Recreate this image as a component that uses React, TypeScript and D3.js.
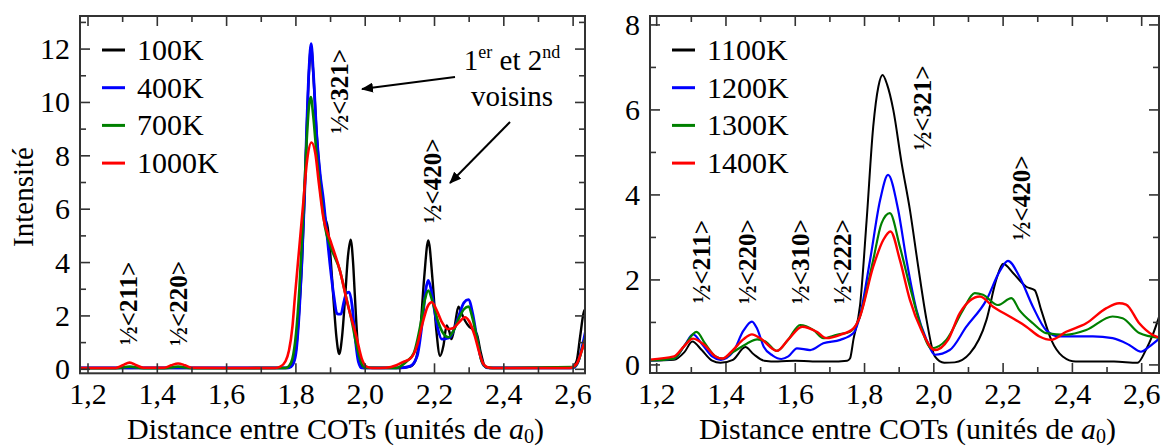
import React from "react";
import * as d3 from "d3";

type Pt = [number, number];

// ---------- DATA ----------
const leftSeriesNames = ["100K", "400K", "700K", "1000K"];
const rightSeriesNames = ["1100K", "1200K", "1300K", "1400K"];
const seriesColors = ["#000000", "#0000ff", "#008000", "#ff0000"];

const xTicks = [1.2, 1.4, 1.6, 1.8, 2.0, 2.2, 2.4, 2.6];
const xMinorTicks = [1.3, 1.5, 1.7, 1.9, 2.1, 2.3, 2.5];
const leftYTicks = [0, 2, 4, 6, 8, 10, 12];
const leftYMinor = [1, 3, 5, 7, 9, 11, 13];
const rightYTicks = [0, 2, 4, 6, 8];
const rightYMinor = [1, 3, 5, 7];

const left100K: Pt[] = [
  [1.17, 0.05], [1.4, 0.05], [1.6, 0.05], [1.775, 0.05], [1.788, 0.15], [1.8, 0.7], [1.81, 2.3], [1.817, 3.9],
  [1.825, 6.5], [1.831, 8.9], [1.838, 11.2], [1.844, 12.1], [1.85, 11.1], [1.86, 8.8], [1.87, 7.2], [1.879, 6.1],
  [1.884, 5.7], [1.892, 5.3], [1.9, 4.2], [1.908, 2.7], [1.917, 1.2], [1.925, 0.57], [1.933, 1.2], [1.942, 2.7],
  [1.95, 4.2], [1.958, 4.86], [1.965, 4.0], [1.97, 2.8], [1.978, 1.0], [1.985, 0.2], [1.995, 0.05],
  [2.1, 0.05], [2.13, 0.1], [2.144, 0.3], [2.158, 1.3], [2.17, 3.4], [2.182, 4.83], [2.194, 3.4], [2.205, 1.5],
  [2.216, 0.5], [2.226, 0.9], [2.235, 1.64], [2.243, 1.4], [2.249, 1.13], [2.258, 1.6], [2.269, 2.35],
  [2.278, 2.1], [2.288, 1.82], [2.3, 1.6], [2.31, 1.5], [2.322, 1.32], [2.334, 0.6], [2.346, 0.1], [2.36, 0.05],
  [2.595, 0.05], [2.61, 0.3], [2.62, 1.2], [2.63, 2.1], [2.635, 2.25], [2.645, 1.8],
];
const left400K: Pt[] = [
  [1.17, 0.05], [1.4, 0.05], [1.6, 0.05], [1.78, 0.05], [1.79, 0.15], [1.8, 0.6], [1.81, 2.2], [1.817, 3.95],
  [1.825, 6.5], [1.831, 9.0], [1.838, 11.3], [1.844, 12.2], [1.85, 11.2], [1.86, 8.8], [1.87, 7.3], [1.879, 6.4],
  [1.89, 5.0], [1.898, 3.97], [1.91, 2.7], [1.918, 2.1], [1.922, 2.07], [1.93, 2.07], [1.938, 2.5], [1.946, 2.85],
  [1.954, 2.89], [1.962, 2.4], [1.97, 1.3], [1.98, 0.3], [1.99, 0.05],
  [2.1, 0.05], [2.13, 0.12], [2.15, 0.5], [2.165, 1.8], [2.175, 3.0], [2.182, 3.33], [2.19, 3.0], [2.2, 2.2],
  [2.21, 1.5], [2.221, 1.13], [2.233, 1.15], [2.245, 1.2], [2.255, 1.45], [2.27, 2.0], [2.285, 2.5], [2.298, 2.61],
  [2.31, 2.1], [2.322, 1.2], [2.331, 0.57], [2.342, 0.15], [2.355, 0.05],
  [2.6, 0.05], [2.615, 0.3], [2.627, 0.9], [2.64, 1.7],
];
const left700K: Pt[] = [
  [1.17, 0.04], [1.28, 0.04], [1.32, 0.1], [1.36, 0.04], [1.42, 0.04], [1.46, 0.1], [1.5, 0.04], [1.6, 0.04],
  [1.77, 0.05], [1.78, 0.12], [1.79, 0.4], [1.8, 1.3], [1.81, 3.0], [1.82, 5.5], [1.83, 8.3], [1.838, 9.9],
  [1.843, 10.2], [1.85, 9.5], [1.86, 8.0], [1.87, 6.8], [1.884, 5.33], [1.9, 4.6], [1.927, 3.7], [1.945, 2.7],
  [1.961, 1.82], [1.975, 0.9], [1.99, 0.2], [2.0, 0.06],
  [2.09, 0.05], [2.12, 0.3], [2.14, 0.6], [2.16, 1.7], [2.172, 2.6], [2.182, 2.95], [2.195, 2.5], [2.21, 1.8],
  [2.225, 1.35], [2.24, 1.2], [2.255, 1.45], [2.27, 1.9], [2.285, 2.25], [2.298, 2.35], [2.31, 1.9], [2.325, 1.0],
  [2.336, 0.3], [2.35, 0.08], [2.37, 0.05],
  [2.6, 0.08], [2.615, 0.3], [2.627, 0.8], [2.64, 1.4],
];
const left1000K: Pt[] = [
  [1.17, 0.05], [1.28, 0.05], [1.3, 0.15], [1.32, 0.25], [1.34, 0.15], [1.36, 0.06], [1.42, 0.06], [1.44, 0.15],
  [1.46, 0.22], [1.48, 0.15], [1.5, 0.06], [1.6, 0.05], [1.74, 0.05], [1.755, 0.1], [1.77, 0.3], [1.78, 0.7],
  [1.79, 1.6], [1.797, 2.7], [1.81, 4.6], [1.821, 6.2], [1.832, 7.8], [1.845, 8.5], [1.856, 8.1], [1.866, 7.0],
  [1.879, 5.7], [1.9, 4.8], [1.927, 3.7], [1.95, 2.4], [1.975, 1.2], [1.99, 0.4], [2.004, 0.1], [2.02, 0.05],
  [2.06, 0.06], [2.09, 0.15], [2.11, 0.28], [2.13, 0.4], [2.15, 0.9], [2.165, 1.7], [2.18, 2.35], [2.192, 2.51],
  [2.205, 2.25], [2.22, 1.8], [2.24, 1.51], [2.255, 1.55], [2.27, 1.75], [2.288, 1.95], [2.3, 1.8], [2.315, 1.3],
  [2.33, 0.6], [2.341, 0.2], [2.355, 0.07], [2.38, 0.05],
  [2.59, 0.05], [2.61, 0.2], [2.625, 0.7], [2.64, 1.3],
];

const right1100K: Pt[] = [
  [1.17, 0.1], [1.25, 0.12], [1.28, 0.3], [1.303, 0.55], [1.33, 0.35], [1.36, 0.1], [1.384, 0.05], [1.42, 0.12],
  [1.456, 0.42], [1.48, 0.25], [1.51, 0.1], [1.55, 0.08], [1.6, 0.1], [1.65, 0.08], [1.7, 0.08], [1.75, 0.1],
  [1.758, 0.15], [1.768, 0.6], [1.787, 1.4], [1.806, 3.4], [1.825, 5.6], [1.84, 6.55], [1.852, 6.82],
  [1.865, 6.6], [1.883, 6.0], [1.907, 4.75], [1.931, 3.65], [1.955, 2.31], [1.979, 1.06], [2.003, 0.2],
  [2.03, 0.05], [2.06, 0.06], [2.104, 0.27], [2.152, 1.06], [2.18, 2.0], [2.2, 2.38], [2.23, 2.15], [2.267, 1.84],
  [2.291, 1.76], [2.31, 1.29], [2.339, 0.59], [2.372, 0.2], [2.41, 0.08], [2.52, 0.08], [2.588, 0.05],
  [2.612, 0.35], [2.63, 0.67], [2.655, 1.25],
];
const right1200K: Pt[] = [
  [1.17, 0.1], [1.25, 0.15], [1.28, 0.45], [1.305, 0.72], [1.33, 0.5], [1.36, 0.2], [1.385, 0.12], [1.42, 0.3],
  [1.45, 0.8], [1.475, 1.02], [1.49, 0.85], [1.509, 0.43], [1.535, 0.22], [1.56, 0.14], [1.58, 0.2], [1.605, 0.39],
  [1.643, 0.35], [1.681, 0.51], [1.73, 0.59], [1.768, 0.75], [1.785, 1.1], [1.816, 2.47], [1.845, 3.88],
  [1.868, 4.47], [1.897, 3.65], [1.921, 2.47], [1.95, 1.29], [1.979, 0.59], [2.003, 0.24], [2.046, 0.35],
  [2.094, 0.9], [2.152, 1.53], [2.19, 2.2], [2.214, 2.45], [2.247, 2.08], [2.286, 1.37], [2.324, 0.82],
  [2.363, 0.67], [2.459, 0.67], [2.516, 0.63], [2.564, 0.47], [2.598, 0.31], [2.622, 0.43], [2.655, 0.65],
];
const right1300K: Pt[] = [
  [1.17, 0.1], [1.25, 0.15], [1.28, 0.45], [1.315, 0.78], [1.34, 0.5], [1.37, 0.2], [1.39, 0.15], [1.42, 0.3],
  [1.46, 0.5], [1.49, 0.6], [1.514, 0.55], [1.547, 0.33], [1.58, 0.6], [1.614, 0.94], [1.653, 0.82],
  [1.681, 0.63], [1.72, 0.71], [1.758, 0.78], [1.785, 1.1], [1.825, 2.47], [1.849, 3.33], [1.873, 3.57],
  [1.902, 2.78], [1.931, 1.84], [1.96, 0.98], [1.993, 0.39], [2.036, 0.59], [2.084, 1.29], [2.118, 1.69],
  [2.142, 1.65], [2.185, 1.41], [2.224, 1.57], [2.247, 1.29], [2.286, 0.98], [2.324, 0.75], [2.382, 0.71],
  [2.44, 0.82], [2.516, 1.14], [2.545, 1.1], [2.593, 0.75], [2.655, 0.63],
];
const right1400K: Pt[] = [
  [1.17, 0.12], [1.25, 0.2], [1.28, 0.45], [1.305, 0.62], [1.34, 0.45], [1.37, 0.2], [1.39, 0.15], [1.42, 0.35],
  [1.45, 0.6], [1.475, 0.72], [1.5, 0.62], [1.547, 0.33], [1.58, 0.6], [1.62, 0.9], [1.662, 0.78], [1.69, 0.63],
  [1.73, 0.71], [1.768, 0.86], [1.785, 1.1], [1.825, 2.31], [1.854, 2.94], [1.875, 3.14], [1.902, 2.47],
  [1.931, 1.53], [1.964, 0.82], [2.003, 0.35], [2.041, 0.59], [2.075, 1.22], [2.133, 1.61], [2.171, 1.37],
  [2.219, 1.14], [2.267, 0.9], [2.305, 0.67], [2.339, 0.59], [2.382, 0.78], [2.44, 0.98], [2.497, 1.33],
  [2.535, 1.45], [2.555, 1.42], [2.593, 0.98], [2.631, 0.71], [2.655, 0.63],
];

const leftAnnotations = [
  { label: "½<321>", x: 1.95, y: 10.42 },
  { label: "½<420>", x: 2.218, y: 7.06 },
  { label: "½<211>", x: 1.341, y: 2.47 },
  { label: "½<220>", x: 1.486, y: 2.47 },
];
const rightAnnotations = [
  { label: "½<321>", x: 1.992, y: 6.05 },
  { label: "½<420>", x: 2.278, y: 3.93 },
  { label: "½<211>", x: 1.354, y: 2.43 },
  { label: "½<220>", x: 1.487, y: 2.43 },
  { label: "½<310>", x: 1.64, y: 2.43 },
  { label: "½<222>", x: 1.761, y: 2.43 },
];

const FAMILY = '"Liberation Serif"';
const fmt = (v: number) => v.toFixed(1).replace(".", ",");

type PanelProps = {
  id: string;
  box: { l: number; r: number; t: number; b: number };
  xDomain: [number, number];
  yDomain: [number, number];
  yTicks: number[];
  yMinor: number[];
  series: Pt[][];
  names: string[];
  legendX: number;
  annotations: { label: string; x: number; y: number }[];
  widths: number[];
};

function Panel(p: PanelProps) {
  const { box } = p;
  const x = d3.scaleLinear().domain(p.xDomain).range([box.l, box.r]);
  const y = d3.scaleLinear().domain(p.yDomain).range([box.b, box.t]);
  const line = d3
    .line<Pt>()
    .x((d) => x(d[0]))
    .y((d) => y(d[1]))
    .curve(d3.curveMonotoneX);
  const major = 10;
  const minor = 6;
  const tickStroke = "#333";
  return (
    <g>
      <defs>
        <clipPath id={p.id}>
          <rect x={box.l} y={box.t} width={box.r - box.l} height={box.b - box.t} />
        </clipPath>
      </defs>
      <g clipPath={`url(#${p.id})`}>
        {p.series.map((s, i) => (
          <path key={i} d={line(s) || ""} fill="none" stroke={seriesColors[i]} strokeWidth={p.widths[i]} strokeLinejoin="round" />
        ))}
      </g>
      <g stroke={tickStroke} strokeWidth={1.6}>
        {xTicks.map((t) => (
          <g key={"xt" + t}>
            <line x1={x(t)} x2={x(t)} y1={box.b} y2={box.b - major} />
            <line x1={x(t)} x2={x(t)} y1={box.t} y2={box.t + major} />
          </g>
        ))}
        {xMinorTicks.map((t) => (
          <g key={"xm" + t}>
            <line x1={x(t)} x2={x(t)} y1={box.b} y2={box.b - minor} />
            <line x1={x(t)} x2={x(t)} y1={box.t} y2={box.t + minor} />
          </g>
        ))}
        {p.yTicks.map((t) => (
          <g key={"yt" + t}>
            <line x1={box.l} x2={box.l + major} y1={y(t)} y2={y(t)} />
            <line x1={box.r} x2={box.r - major} y1={y(t)} y2={y(t)} />
          </g>
        ))}
        {p.yMinor.map((t) => (
          <g key={"ym" + t}>
            <line x1={box.l} x2={box.l + minor} y1={y(t)} y2={y(t)} />
            <line x1={box.r} x2={box.r - minor} y1={y(t)} y2={y(t)} />
          </g>
        ))}
      </g>
      <rect x={box.l} y={box.t} width={box.r - box.l} height={box.b - box.t} fill="none" stroke={tickStroke} strokeWidth={2} />
      <g fill="#000">
        {xTicks.map((t) => (
          <text key={"xl" + t} className="sf" x={x(t)} y={box.b + 31} textAnchor="middle" fontSize={30}>
            {fmt(t)}
          </text>
        ))}
        {p.yTicks.map((t) => (
          <text key={"yl" + t} className="sf" x={box.l - 10} y={y(t) + 10} textAnchor="end" fontSize={30}>
            {t}
          </text>
        ))}
      </g>
      <text className="sf" x={(box.l + box.r) / 2 + 3} y={439} textAnchor="middle" fontSize={30}>
        Distance entre COTs (unités de <tspan fontStyle="italic">a</tspan>
        <tspan dy={4} fontSize={20}>0</tspan>
        <tspan dy={-4}>)</tspan>
      </text>
      <g>
        {p.names.map((n, i) => (
          <g key={n}>
            <line x1={p.legendX} x2={p.legendX + 23} y1={50 + i * 37.7} y2={50 + i * 37.7} stroke={seriesColors[i]} strokeWidth={3} />
            <text className="sf" x={p.legendX + 35} y={60 + i * 37.7} fontSize={30}>{n}</text>
          </g>
        ))}
      </g>
      <g>
        {p.annotations.map((a) => (
          <text key={a.label} className="sf" transform={`translate(${x(a.x)},${y(a.y)}) rotate(-90)`} textAnchor="middle" fontSize={25} fontWeight="bold">
            {a.label}
          </text>
        ))}
      </g>
    </g>
  );
}

export default function App() {
  return (
    <svg width={1162} height={447} fontFamily="Liberation Serif" style={{ position: "absolute", left: 0, top: 0, background: "#fff", fontFamily: FAMILY }}>
      <style>{`text, tspan, .sf { font-family: "Liberation Serif"; }`}</style>
      <defs>
        <marker id="arr" viewBox="0 0 12 10" refX={11} refY={5} markerWidth={12} markerHeight={10} markerUnits="userSpaceOnUse" orient="auto">
          <path d="M0,0 L12,5 L0,10 Z" fill="#000" />
        </marker>
      </defs>
      <rect x={0} y={0} width={1162} height={447} fill="#fff" />
      <Panel
        id="clipL"
        box={{ l: 80, r: 585, t: 16, b: 373.3 }}
        xDomain={[1.1769, 2.6343]}
        yDomain={[-0.15, 13.24]}
        yTicks={leftYTicks}
        yMinor={leftYMinor}
        series={[left100K, left400K, left700K, left1000K]}
        names={leftSeriesNames}
        legendX={102}
        annotations={leftAnnotations}
        widths={[2.4, 2.8, 2.6, 2.6]}
      />
      <Panel
        id="clipR"
        box={{ l: 650, r: 1159, t: 16, b: 373 }}
        xDomain={[1.1807, 2.65]}
        yDomain={[-0.19, 8.21]}
        yTicks={rightYTicks}
        yMinor={rightYMinor}
        series={[right1100K, right1200K, right1300K, right1400K]}
        names={rightSeriesNames}
        legendX={672}
        annotations={rightAnnotations}
        widths={[2, 2.2, 2.2, 2.4]}
      />
      <text className="sf" transform="translate(33,197) rotate(-90)" textAnchor="middle" fontSize={29}>
        Intensité
      </text>
      <text className="sf" x={512} y={70} textAnchor="middle" fontSize={29}>
        1<tspan dy={-12} fontSize={18}>er</tspan>
        <tspan dy={12}> et 2</tspan>
        <tspan dy={-12} fontSize={18}>nd</tspan>
      </text>
      <text className="sf" x={512} y={106} textAnchor="middle" fontSize={29}>
        voisins
      </text>
      <line x1={455} y1={77} x2={362} y2={89} stroke="#000" strokeWidth={2} markerEnd="url(#arr)" />
      <line x1={510} y1={122} x2={450} y2={183} stroke="#000" strokeWidth={2} markerEnd="url(#arr)" />
    </svg>
  );
}
